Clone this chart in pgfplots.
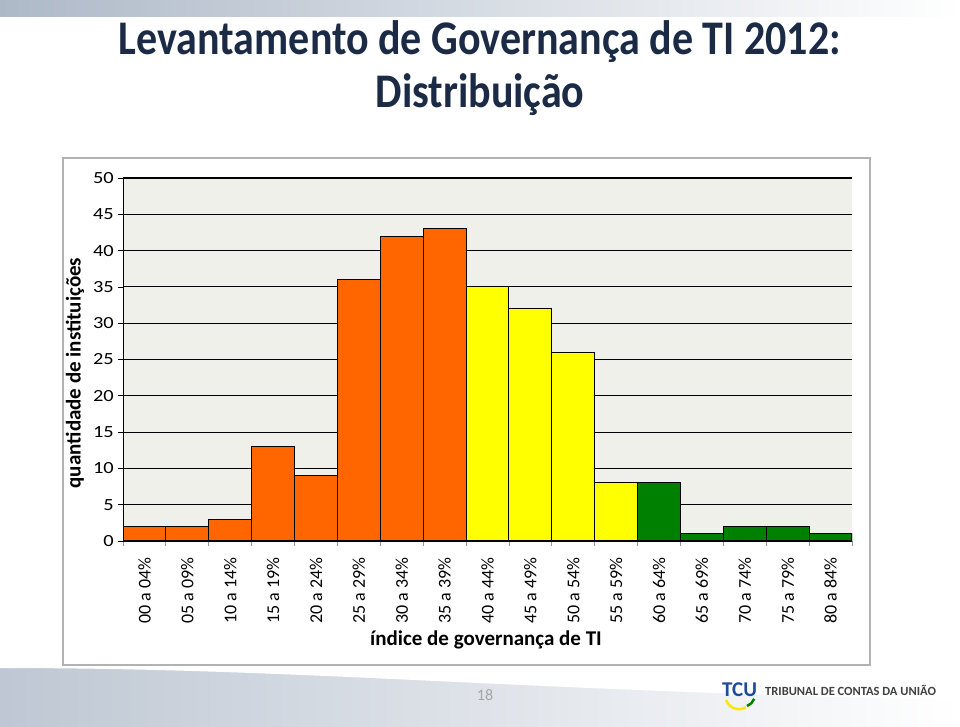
\documentclass[border=0pt]{standalone}
\usepackage{fontspec}
\setmainfont{Carlito}
\usepackage{pgfplots}
\pgfplotsset{compat=1.18}

\definecolor{barorange}{HTML}{FF6600}
\definecolor{baryellow}{HTML}{FFFF00}
\definecolor{bargreen}{HTML}{008000}
\definecolor{plotbg}{HTML}{EFF0EA}
\definecolor{titlecol}{HTML}{1B2A45}
\definecolor{bandblue}{HTML}{AEB9C8}
\definecolor{tcublue}{HTML}{1E4A9A}

\begin{document}
\begin{tikzpicture}[x=1pt,y=1pt]
\path[use as bounding box] (0,0) rectangle (960,-726);
\fill[white] (0,0) rectangle (960,-726);
% slide bands
\shade[left color=bandblue, right color=white] (0,0) rectangle (960,-16);
\shade[left color=bandblue!80, right color=white] (0,-668) rectangle (960,-726);
\fill[white] (0,-668) .. controls (300,-668) and (500,-690) .. (960,-700) -- (960,-668) -- cycle;

\node[font=\bfseries\fontsize{42}{46.5}\selectfont, text=titlecol, align=center, yscale=1.15]
  at (480,-68) {Levantamento de Governança de TI 2012:\\Distribuição};

% chart frame
\draw[black!30, line width=1.2pt, fill=white] (63,-158) rectangle (870,-665);

\begin{axis}[
  at={(123pt,-541pt)}, anchor=south west,
  scale only axis, width=729pt, height=363pt,
  xmin=-0.5, xmax=16.5, ymin=0, ymax=50,
  axis x line*=bottom, axis y line*=left,
  axis line style={-},
  x axis line style={draw=black!40},
  y axis line style={draw=black, line width=1pt},
  axis background/.style={fill=plotbg},
  ytick={0,5,...,50},
  ymajorgrids, grid style={draw=black, line width=1.1pt},
  tick align=outside, major tick length=5pt,
  ytick style={draw=black, line width=0.8pt},
  xtick={0,...,16},
  xtick style={draw=none},
  xticklabels={00 a 04\%,05 a 09\%,10 a 14\%,15 a 19\%,20 a 24\%,25 a 29\%,30 a 34\%,35 a 39\%,40 a 44\%,45 a 49\%,50 a 54\%,55 a 59\%,60 a 64\%,65 a 69\%,70 a 74\%,75 a 79\%,80 a 84\%},
  xticklabel style={rotate=90, anchor=east, font=\fontsize{18}{18}\selectfont, xshift=-8pt},
  yticklabel style={font=\fontsize{17}{17}\selectfont, xscale=1.2},
  /pgf/number format/assume math mode=true,
  extra x ticks={-0.5,0.5,...,16.5},
  extra x tick labels={},
  extra x tick style={xtick style={draw=black!40, line width=0.8pt}, grid=none},
  ybar, bar width=1,
  every axis plot/.append style={draw=black, line width=1.1pt, bar shift=0pt},
]
\addplot[fill=barorange, bar shift=0pt] coordinates {(0,2) (1,2) (2,3) (3,13) (4,9) (5,36) (6,42) (7,43)};
\addplot[fill=baryellow, bar shift=0pt] coordinates {(8,35) (9,32) (10,26) (11,8)};
\addplot[fill=bargreen, bar shift=0pt] coordinates {(12,8) (13,1) (14,2) (15,2) (16,1)};
\end{axis}

\node[rotate=90, font=\bfseries\fontsize{21}{21}\selectfont] at (75,-373) {quantidade de instituições};
\node[font=\bfseries\fontsize{21}{21}\selectfont] at (486,-640) {índice de governança de TI};

% footer
\node[text=black!35, font=\fontsize{16}{16}\selectfont] at (485,-695) {18};
\draw[line width=2.5pt, yellow!90!orange] (726,-700) arc[start angle=200, end angle=300, radius=14];
\draw[line width=2.5pt, bargreen] (747,-706) arc[start angle=290, end angle=340, radius=12];
\node[text=tcublue, font=\bfseries\fontsize{21}{21}\selectfont, anchor=west, inner sep=0pt] at (722,-690) {TCU};
\node[text=black!75, font=\bfseries\fontsize{12.5}{13}\selectfont, anchor=west, inner sep=0pt] at (765,-690) {TRIBUNAL DE CONTAS DA UNIÃO};
\end{tikzpicture}
\end{document}
